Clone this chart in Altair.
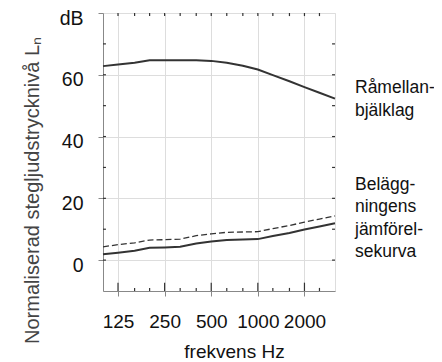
import altair as alt
import pandas as pd

# third-octave band centre frequencies (Hz)
freqs = [100, 125, 160, 200, 250, 315, 400, 500, 630, 800, 1000, 1250, 1600, 2000, 2500, 3150]
# Råmellanbjälklag (raw floor), solid
raw_floor = [62.8, 63.3, 63.9, 64.7, 64.7, 64.7, 64.7, 64.5, 63.9, 62.9, 61.7, 59.9, 57.9, 56.0, 54.2, 52.3]
# Beläggningens jämförelsekurva, solid
ref_solid = [1.9, 2.4, 3.0, 4.0, 4.1, 4.3, 5.4, 6.0, 6.5, 6.7, 6.8, 7.8, 8.8, 9.9, 10.9, 11.9]
# Beläggningens jämförelsekurva, dashed
ref_dashed = [4.3, 5.0, 5.6, 6.5, 6.6, 6.8, 7.9, 8.5, 9.0, 9.1, 9.2, 10.2, 11.2, 12.3, 13.3, 14.3]

x_tick_labels = [125, 250, 500, 1000, 2000]
y_tick_labels = [0, 20, 40, 60, 80]
y_minor = [0, 10, 20, 30, 40, 50, 60, 70]
inner_bands = freqs[1:-1]

annot_text = ["Råmellan-\nbjälklag", "Belägg-\nningens\njämförel-\nsekurva"]
annot_db = [55.6, 24.4]  # level of each block's first line

X_DOM = [100, 3150]
Y_DOM = [-10, 80]
INK = "#333333"

xs = alt.Scale(type="log", domain=X_DOM, nice=False)
ys = alt.Scale(domain=Y_DOM, nice=False, zero=False)

curves = pd.DataFrame({
    "f": freqs * 3,
    "db": raw_floor + ref_solid + ref_dashed,
    "s": ["raw"] * 16 + ["solid"] * 16 + ["dashed"] * 16,
})

x_axis = alt.Axis(
    values=x_tick_labels, format="d", title="frekvens Hz", labelFontSize=19, titleFontSize=19,
    labelPadding=16, labelBaseline="top", labelColor="#111", titleColor="#111",
    titleFontWeight="normal", titleX=131, titleY=66, titleBaseline="alphabetic",
    titleAlign="center", labelFlush=False, labelOverlap=False,
)
y_axis = alt.Axis(
    values=y_tick_labels, title="Normaliserad stegljudstrycknivå Lₙ",
    labelFontSize=19.5, titleFontSize=20, labelPadding=15, labelOffset=5,
    labelColor="#111", titleColor="#444", titleFontWeight="normal",
    labelExpr="datum.value == 80 ? 'dB' : datum.label", labelOverlap=False,
    titleX=-65, titleY=177, titleAngle=270, titleBaseline="alphabetic", titleAlign="center",
)


def X(field):
    return alt.X(field, scale=xs, axis=x_axis)


def Y(field):
    return alt.Y(field, scale=ys, axis=y_axis)


solid_lines = alt.Chart(curves).transform_filter("datum.s != 'dashed'").mark_line(
    color=INK, strokeWidth=2
).encode(x=X("f:Q"), y=Y("db:Q"), detail="s:N")

dashed_line = alt.Chart(curves).transform_filter("datum.s == 'dashed'").mark_line(
    color=INK, strokeWidth=1.3, strokeDash=[6, 3]
).encode(x=X("f:Q"), y=Y("db:Q"))

# inward tick marks drawn as rules in data units
bt = pd.DataFrame({"f": inner_bands})
bt["db"] = -10
bt["db2"] = [-10 + (2.7 if f in x_tick_labels else 1.0) for f in inner_bands]
bottom_ticks = alt.Chart(bt).mark_rule(color=INK, strokeWidth=1.2).encode(
    x=X("f:Q"), y=Y("db:Q"), y2="db2:Q",
)
tt = pd.DataFrame({"f": inner_bands})
tt["db"] = 80
tt["db2"] = 79
top_ticks = alt.Chart(tt).mark_rule(color=INK, strokeWidth=1.2).encode(
    x=X("f:Q"), y=Y("db:Q"), y2="db2:Q",
)
lt = pd.DataFrame({"db": y_minor})
lt["f"] = 100
lt["f2"] = 104.5
left_ticks = alt.Chart(lt).mark_rule(color=INK, strokeWidth=1.2).encode(
    x=X("f:Q"), x2="f2:Q", y=Y("db:Q"),
)
rt = pd.DataFrame({"db": y_minor})
rt["f"] = 3014
rt["f2"] = 3150
right_ticks = alt.Chart(rt).mark_rule(color=INK, strokeWidth=1.2).encode(
    x=X("f:Q"), x2="f2:Q", y=Y("db:Q"),
)

annots = alt.Chart(pd.DataFrame({"t": annot_text, "db": annot_db})).mark_text(
    align="left", baseline="middle", fontSize=17.5, lineHeight=22.5, lineBreak="\n",
    color="#111", font="Liberation Sans",
).encode(
    x=alt.value(252),
    y=Y("db:Q"),
    text="t:N",
)

chart = alt.layer(
    solid_lines, dashed_line, bottom_ticks, top_ticks, left_ticks, right_ticks, annots
).properties(
    width=232, height=278,
    autosize=alt.AutoSizeParams(type="none"),
    padding={"left": 95, "top": 5, "right": 99, "bottom": 78},
).configure_view(
    stroke=INK, strokeWidth=1.6,
).configure_axis(
    domain=True, domainColor=INK, domainWidth=1.6, ticks=False, grid=False,
    labelFont="Liberation Sans", titleFont="Liberation Sans",
).configure(background="white")

chart.save("out.html", embed_options={"renderer": "svg", "actions": False})
